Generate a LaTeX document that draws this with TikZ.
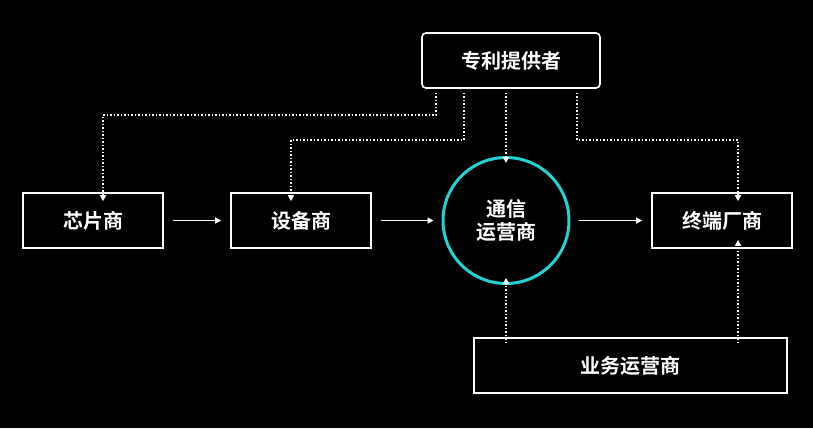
\documentclass[tikz,border=0pt]{standalone}
\usepackage{fontspec}
\setmainfont{Noto Sans CJK SC}[BoldFont={Noto Sans CJK SC Bold}]
\usetikzlibrary{arrows.meta}
\definecolor{cy}{HTML}{22D3D3}
\begin{document}
\begin{tikzpicture}[x=1pt,y=-1pt,
 box/.style={draw=white,line width=1.6pt,text=white,font=\fontsize{20}{23}\selectfont\bfseries,inner sep=0pt},
 sol/.style={draw=white,line width=1.3pt,-{Triangle[length=6pt,width=6pt]}},
 dot/.style={draw=white,line width=1.3pt,dash pattern=on 1.5pt off 2pt,-{Triangle[length=6pt,width=6pt]}}]
\fill[black] (0,0) rectangle (813,428);
\useasboundingbox (0,0) rectangle (813,428);
\node[box,rounded corners=4pt,minimum width=178pt,minimum height=55pt] (p) at (511,60.5) {专利提供者};
\node[box,minimum width=140pt,minimum height=55pt] (a) at (93,220.5) {芯片商};
\node[box,minimum width=140pt,minimum height=55pt] (b) at (301,220.5) {设备商};
\node[box,draw=cy,line width=3pt,circle,minimum size=126pt,align=center] (c) at (506,220.5) {通信\\运营商};
\node[box,minimum width=140pt,minimum height=55pt] (d) at (722,220.5) {终端厂商};
\node[box,minimum width=313pt,minimum height=55pt] (e) at (630.5,365.5) {业务运营商};
\draw[sol] ([xshift=9pt]a.east) -- ([xshift=-9pt]b.west);
\draw[sol] ([xshift=9pt]b.east) -- ([xshift=-8pt]c.west);
\draw[sol] ([xshift=8pt]c.east) -- ([xshift=-9pt]d.west);
\coordinate (p1) at ([xshift=-75pt,yshift=-4pt]p.south);
\coordinate (p2) at ([xshift=-47pt,yshift=-4pt]p.south);
\coordinate (p3) at ([xshift=-5pt,yshift=-4pt]p.south);
\coordinate (p4) at ([xshift=66pt,yshift=-4pt]p.south);
\draw[dot] (p1) |- (103,115) -- ([xshift=10pt,yshift=-9pt]a.north);
\draw[dot] (p2) |- (291,140) -- ([xshift=-10pt,yshift=-9pt]b.north);
\draw[dot] (p3) -- ([yshift=-7pt]c.north);
\draw[dot] (p4) |- (738,140) -- ([xshift=16pt,yshift=-9pt]d.north);
\draw[dot] ([xshift=-124.5pt,yshift=-6pt]e.north) -- ([yshift=7pt]c.south);
\draw[dot] ([xshift=107.5pt,yshift=-6pt]e.north) -- ([xshift=16pt,yshift=9pt]d.south);
\end{tikzpicture}
\end{document}
